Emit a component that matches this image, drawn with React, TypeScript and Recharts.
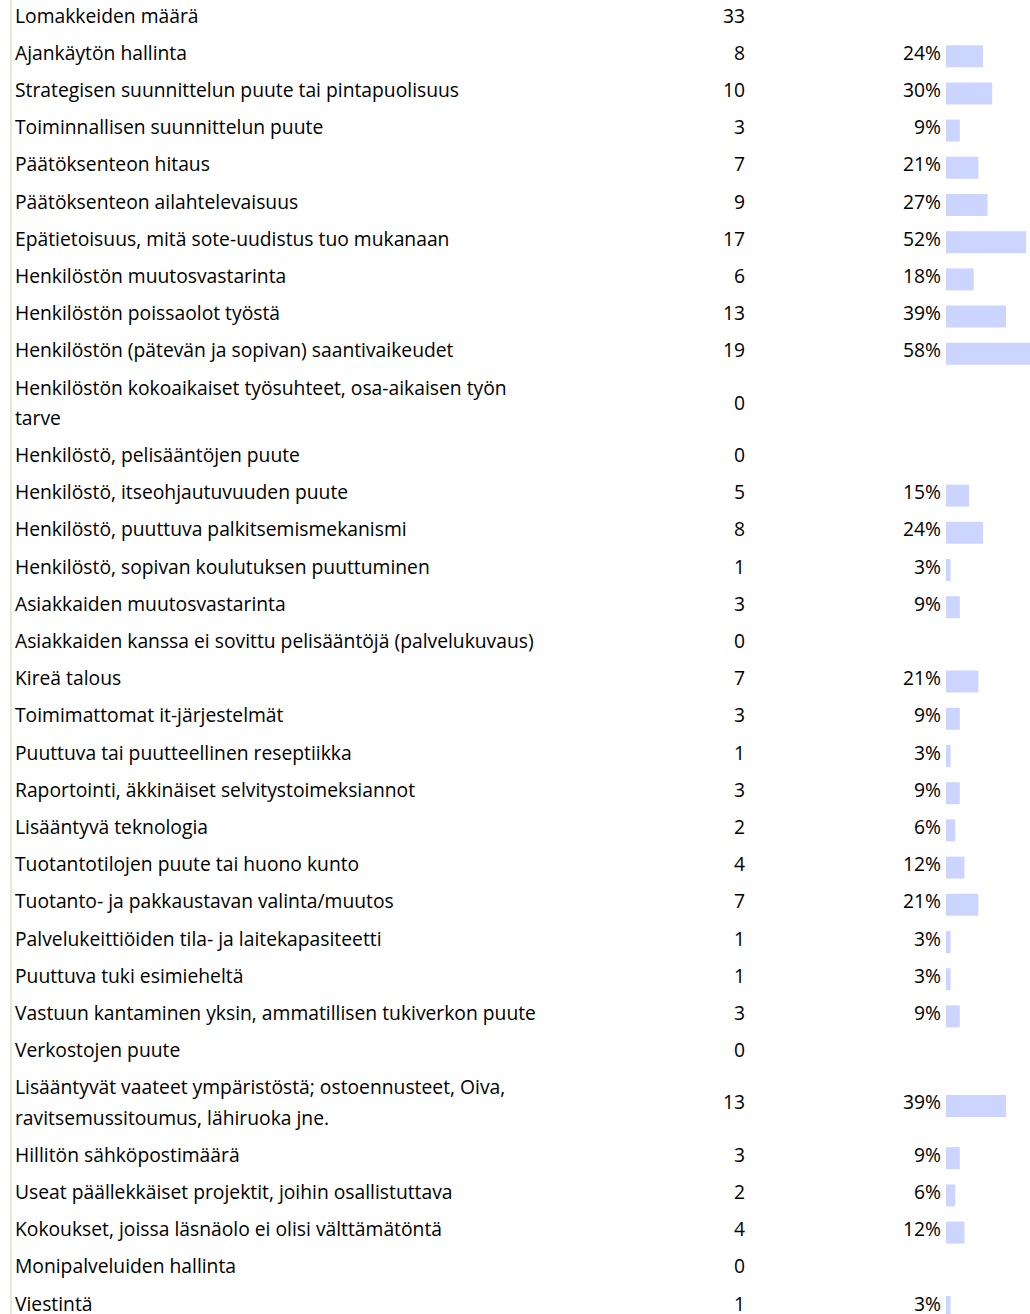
// Survey answer table: label, count, share and a small bar per row
import { BarChart, Bar, XAxis, YAxis } from 'recharts';

const labels = [
  'Lomakkeiden määrä',
  'Ajankäytön hallinta',
  'Strategisen suunnittelun puute tai pintapuolisuus',
  'Toiminnallisen suunnittelun puute',
  'Päätöksenteon hitaus',
  'Päätöksenteon ailahtelevaisuus',
  'Epätietoisuus, mitä sote-uudistus tuo mukanaan',
  'Henkilöstön muutosvastarinta',
  'Henkilöstön poissaolot työstä',
  'Henkilöstön (pätevän ja sopivan) saantivaikeudet',
  'Henkilöstön kokoaikaiset työsuhteet, osa-aikaisen työn\ntarve',
  'Henkilöstö, pelisääntöjen puute',
  'Henkilöstö, itseohjautuvuuden puute',
  'Henkilöstö, puuttuva palkitsemismekanismi',
  'Henkilöstö, sopivan koulutuksen puuttuminen',
  'Asiakkaiden muutosvastarinta',
  'Asiakkaiden kanssa ei sovittu pelisääntöjä (palvelukuvaus)',
  'Kireä talous',
  'Toimimattomat it-järjestelmät',
  'Puuttuva tai puutteellinen reseptiikka',
  'Raportointi, äkkinäiset selvitystoimeksiannot',
  'Lisääntyvä teknologia',
  'Tuotantotilojen puute tai huono kunto',
  'Tuotanto- ja pakkaustavan valinta/muutos',
  'Palvelukeittiöiden tila- ja laitekapasiteetti',
  'Puuttuva tuki esimieheltä',
  'Vastuun kantaminen yksin, ammatillisen tukiverkon puute',
  'Verkostojen puute',
  'Lisääntyvät vaateet ympäristöstä; ostoennusteet, Oiva,\nravitsemussitoumus, lähiruoka jne.',
  'Hillitön sähköpostimäärä',
  'Useat päällekkäiset projektit, joihin osallistuttava',
  'Kokoukset, joissa läsnäolo ei olisi välttämätöntä',
  'Monipalveluiden hallinta',
  'Viestintä',
];

const counts = [
  33, 8, 10, 3, 7, 9, 17, 6, 13, 19, 0, 0, 5, 8, 1, 3, 0,
  7, 3, 1, 3, 2, 4, 7, 1, 1, 3, 0, 13, 3, 2, 4, 0, 1,
];

// null = no share shown (header row and rows with zero answers)
const percents: (number | null)[] = [
  null, 24, 30, 9, 21, 27, 52, 18, 39, 58, null, null, 15, 24, 3, 9, null,
  21, 9, 3, 9, 6, 12, 21, 3, 3, 9, null, 39, 9, 6, 12, null, 3,
];

const FONT = '"Open Sans", "Noto Sans", sans-serif';
const FONT_SIZE = 19.3;
const LINE_H = 30.2;
const ROW_PAD = 7;
const AXIS_W = 946;
const CHART_W = 1100;

let cursor = 0;
const rows = labels.map((label, i) => {
  const lines = label.split('\n');
  const h = ROW_PAD + LINE_H * lines.length;
  const pos = cursor + h / 2;
  cursor += h;
  return { label, lines, count: counts[i], pct: percents[i], pos };
});
const totalH = cursor;

function RowTick(props: any) {
  const { y, payload } = props;
  const row = rows.find((r) => Math.abs(r.pos - payload.value) < 0.01);
  if (!row) return null;
  const base = y + 4;
  const first = base - ((row.lines.length - 1) * LINE_H) / 2;
  return (
    <g fontFamily={FONT} fontSize={FONT_SIZE} fill="#000">
      <text x={15} y={first}>
        {row.lines.map((l, k) => (
          <tspan key={k} x={15} y={first + k * LINE_H}>{l}</tspan>
        ))}
      </text>
      <text x={745} y={base} textAnchor="end">{row.count}</text>
      {row.pct != null && (
        <text x={941} y={base} textAnchor="end">{row.pct}%</text>
      )}
    </g>
  );
}

export default function App() {
  return (
    <div style={{ position: 'absolute', left: 0, top: 0, width: 1030, height: 1314, overflow: 'hidden', background: '#fff' }}>
      <div style={{ position: 'absolute', left: 10, top: 0, width: 2, height: 1314, background: '#ebe6dc' }} />
      <BarChart
        width={CHART_W}
        height={totalH}
        layout="vertical"
        data={rows}
        margin={{ top: 0, right: 0, bottom: 0, left: 0 }}
      >
        <XAxis type="number" domain={[0, 100]} hide />
        <YAxis
          type="number"
          dataKey="pos"
          domain={[0, totalH]}
          ticks={rows.map((r) => r.pos)}
          interval={0}
          width={AXIS_W}
          axisLine={false}
          tickLine={false}
          tick={(p: any) => <RowTick {...p} />}
        />
        <Bar dataKey="pct" fill="#ccd5ff" barSize={22} isAnimationActive={false} />
      </BarChart>
    </div>
  );
}
